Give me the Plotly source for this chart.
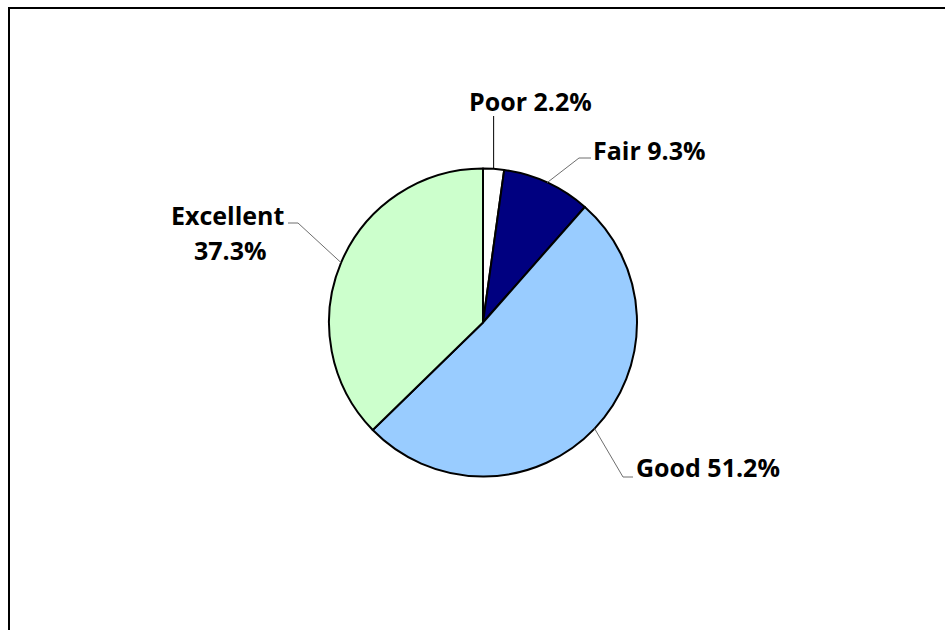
import math
import plotly.graph_objects as go

# Self-rated health distribution
categories = ["Poor", "Fair", "Good", "Excellent"]
percentages = [2.2, 9.3, 51.2, 37.3]
colors = ["#FFFFFF", "#000080", "#99CCFF", "#CCFFCC"]

W, H = 945, 630
cx, cy, r = 483, 322.5, 154  # pie centre and radius in pixels
FONT = dict(size=25, family="Open Sans", color="#000000")

fig = go.Figure(go.Pie(
    labels=categories,
    values=percentages,
    sort=False,
    direction="clockwise",
    rotation=0,
    textinfo="none",
    hoverinfo="label+percent",
    marker=dict(colors=colors, line=dict(color="#000000", width=2)),
    domain=dict(x=[(cx - r) / W, (cx + r) / W],
                y=[1 - (cy + r) / H, 1 - (cy - r) / H]),
    showlegend=False,
))


def px(x):
    return x / W


def py(y):
    return 1 - y / H


# label placement: elbow point, end of leader, text anchor
label_layout = {
    "Poor": dict(elbow=None, end=(None, 116), text=(530, 101), xanchor="center", two_line=False),
    "Fair": dict(elbow=(579, 158), end=(591, 158), text=(591, 150), xanchor="left", two_line=False),
    "Good": dict(elbow=(623, 477), end=(633, 477), text=(634, 467), xanchor="left", two_line=False),
    "Excellent": dict(elbow=(298, 223), end=(288, 223), text=(287, 215), xanchor="right", two_line=True),
}

total = sum(percentages)
cum = 0.0
shapes = []
annotations = []
for cat, val in zip(categories, percentages):
    mid = (cum + val / 2) / total * 2 * math.pi
    cum += val
    ex = cx + r * math.sin(mid)
    ey = cy - r * math.cos(mid)
    lay = label_layout[cat]
    pts = [(ex, ey)]
    if lay["elbow"] is not None:
        pts.append(lay["elbow"])
        pts.append(lay["end"])
    else:
        pts.append((ex, lay["end"][1]))
    path = "M " + " L ".join(f"{px(x)},{py(y)}" for x, y in pts)
    shapes.append(dict(type="path", path=path, xref="paper", yref="paper",
                       line=dict(color="#000000" if cat == "Poor" else "#6E6E6E", width=1)))
    label = f"{val}%"
    if lay["two_line"]:
        annotations.append(dict(x=px(lay["text"][0]), y=py(lay["text"][1]), xref="paper", yref="paper",
                                text=f"<b>{cat}</b>", showarrow=False, xanchor="right", yanchor="middle",
                                font=FONT))
        annotations.append(dict(x=px(230), y=py(250), xref="paper", yref="paper",
                                text=f"<b>{label}</b>", showarrow=False, xanchor="center", yanchor="middle",
                                font=FONT))
    else:
        annotations.append(dict(x=px(lay["text"][0]), y=py(lay["text"][1]), xref="paper", yref="paper",
                                text=f"<b>{cat} {label}</b>", showarrow=False, xanchor=lay["xanchor"],
                                yanchor="middle", font=FONT))

# chart frame: top and left edges
shapes.append(dict(type="line", xref="paper", yref="paper",
                   x0=px(8), y0=py(8), x1=1.0, y1=py(8),
                   line=dict(color="#000000", width=2)))
shapes.append(dict(type="line", xref="paper", yref="paper",
                   x0=px(9), y0=py(8), x1=px(9), y1=0.0,
                   line=dict(color="#000000", width=2)))

fig.update_layout(
    width=W, height=H,
    margin=dict(l=0, r=0, t=0, b=0),
    paper_bgcolor="#FFFFFF",
    plot_bgcolor="#FFFFFF",
    shapes=shapes,
    annotations=annotations,
)

fig.write_html("out.html")
